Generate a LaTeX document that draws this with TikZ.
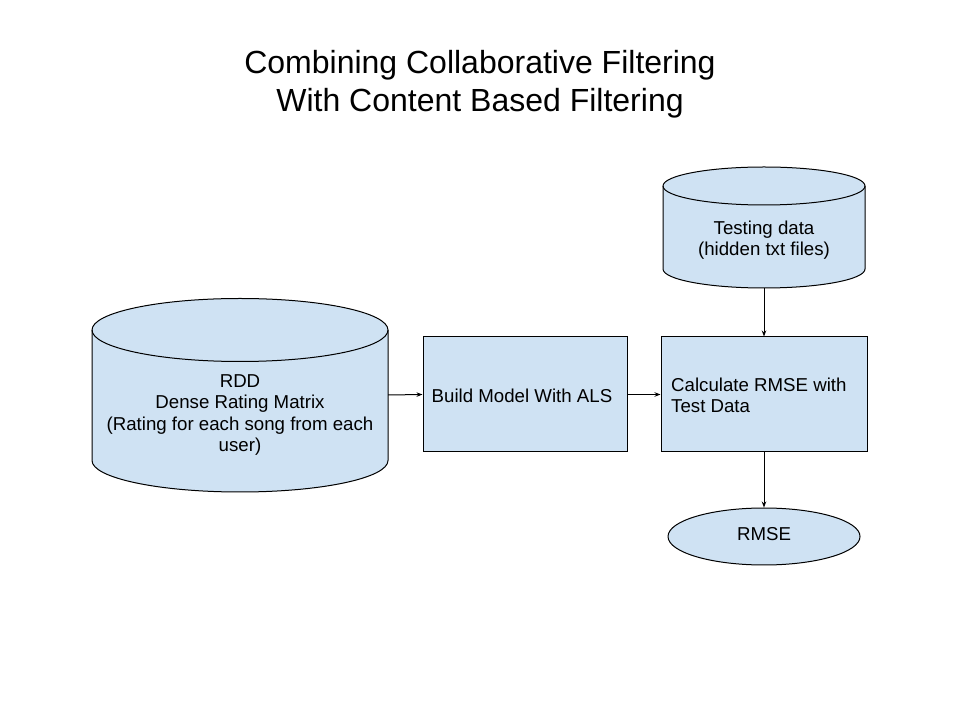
\documentclass[tikz,border=0pt]{standalone}
\usepackage{fontspec}
\setmainfont{Liberation Sans}
\usetikzlibrary{arrows.meta,shapes.geometric}
\definecolor{boxblue}{HTML}{CFE2F3}
\begin{document}
\begin{tikzpicture}[x=1pt,y=1pt,
  shapeline/.style={draw=black,line width=1pt,fill=boxblue},
  boxnode/.style={shapeline,rectangle,inner sep=0pt,minimum width=#1,minimum height=115pt},
  holder/.style={rectangle,inner sep=0pt},
  txt/.style={font=\fontsize{18.67}{21.3}\selectfont,align=center,inner sep=0pt},
  conn/.style={draw=black,line width=1pt,-{Stealth[length=6pt,width=4.5pt]}}
]
\useasboundingbox (0,0) rectangle (960,720);
\fill[white] (0,0) rectangle (960,720);

% title
\node[font=\fontsize{32}{38}\selectfont,align=center,inner sep=0pt] (title) at (480,636)
  {Combining Collaborative Filtering\\With Content Based Filtering};

% big cylinder (RDD)
\path[shapeline] (92,390) -- (92,259.5)
  arc[start angle=180,end angle=360,x radius=148,y radius=31.5] -- (388,390)
  arc[start angle=0,end angle=180,x radius=148,y radius=31.5] -- cycle;
\draw[line width=1pt] (92,390) arc[start angle=180,end angle=360,x radius=148,y radius=31.5];
\node[holder,minimum width=296pt,minimum height=194pt] (rdd) at (240,325) {};
\node[txt] (rddtext) at (240,305) {RDD\\Dense Rating Matrix\\(Rating for each song from each\\user)};

% testing data cylinder
\path[shapeline] (663,534) -- (663,451)
  arc[start angle=180,end angle=360,x radius=101,y radius=19] -- (865,534)
  arc[start angle=0,end angle=180,x radius=101,y radius=19] -- cycle;
\draw[line width=1pt] (663,534) arc[start angle=180,end angle=360,x radius=101,y radius=19];
\node[holder,minimum width=202pt,minimum height=121pt] (test) at (764,492.5) {};
\node[txt] (testtext) at (764,479.5) {Testing data\\(hidden txt files)};

% boxes
\node[boxnode=204pt] (build) at (525,325.5) {};
\node[txt] (buildtext) at (522,324) {Build Model With ALS};
\node[boxnode=206pt] (calc) at (764,325.5) {};
\node[txt,align=left,anchor=west] (calctext) at (671,325) {Calculate RMSE with\\Test Data};

% RMSE ellipse
\node[shapeline,ellipse,inner sep=0pt,minimum width=192pt,minimum height=57pt] (rmse) at (764,183.5) {};
\node[txt] (rmsetext) at (764,185.5) {RMSE};

% connectors
\draw[conn] (rdd.east) -- (build.west);
\draw[conn] (build.east) -- (calc.west);
\draw[conn] (test.south) -- (calc.north);
\draw[conn] (calc.south) -- (rmse.north);
\end{tikzpicture}
\end{document}
